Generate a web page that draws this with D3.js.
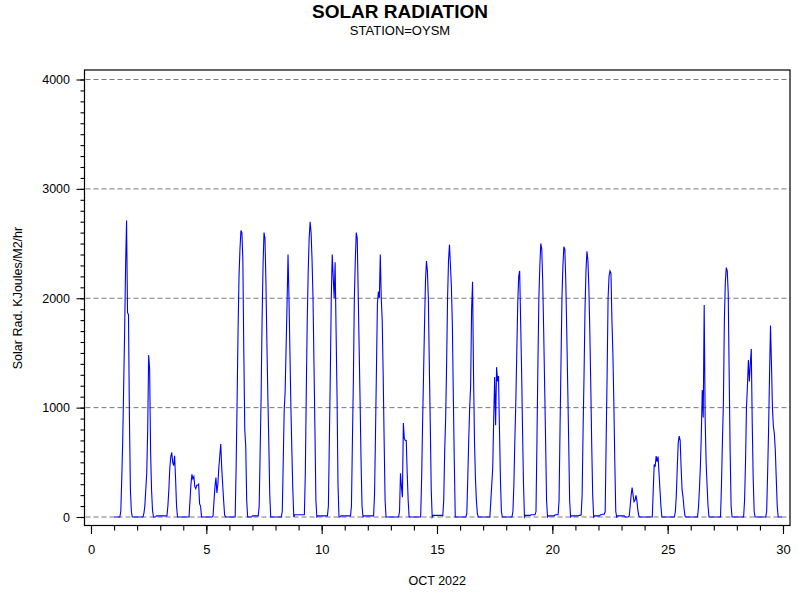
<!DOCTYPE html>
<html>
<head>
<meta charset="utf-8">
<script src="https://cdn.jsdelivr.net/npm/d3@7"></script>
<style>
  body { margin: 0; background: #fff; }
  svg { display: block; font-family: "Liberation Sans", Arial, sans-serif; }
</style>
</head>
<body>
<svg width="800" height="600"></svg>
<script>
// hourly solar radiation (KJoules/M2/hr), one row per day of Oct 2022, hours 0..23
const days = d3.range(1, 30); // 1 .. 29
const hourly = [
  [0,0,0,0,0,0,0,50,350,700,1200,1700,2300,2710,1870,1850,900,250,50,0,0,0,0,0],          // 1
  [0,0,0,0,0,0,0,30,100,250,400,800,1480,1350,600,250,60,0,0,0,10,10,10,10],             // 2
  [10,10,10,10,10,10,10,10,100,250,450,550,590,500,470,560,350,100,0,0,0,0,0,0],          // 3
  [0,0,0,0,0,0,0,150,300,390,350,370,280,260,290,290,300,120,100,0,0,0,0,0],              // 4
  [0,0,0,0,0,0,0,10,150,280,360,220,300,450,560,668,450,300,150,20,0,0,0,0],              // 5
  [0,0,0,0,0,0,0,450,1050,1700,2200,2450,2620,2600,2350,1500,800,650,150,0,0,0,0,0],      // 6
  [10,10,10,10,10,10,10,100,600,1100,1800,2300,2600,2550,2150,1600,1100,680,200,0,0,0,0,0], // 7
  [0,0,0,0,0,0,0,50,500,970,1150,1550,1950,2400,2000,1500,1000,600,250,0,20,20,20,20],    // 8
  [20,20,20,20,20,20,20,400,1150,1800,2250,2550,2700,2600,2350,2000,1400,800,150,0,10,10,10,10], // 9
  [10,10,10,10,10,10,10,100,700,1300,2000,2400,2200,2000,2330,1700,1100,300,0,0,10,10,10,10],   // 10
  [10,10,10,10,10,10,10,100,700,1250,2000,2350,2600,2550,2050,1550,1050,500,100,0,10,10,10,10], // 11
  [10,10,10,10,10,10,10,200,750,1350,1950,2060,2000,2400,2000,1800,1300,700,150,0,0,0,0,0],     // 12
  [0,0,0,0,0,0,0,0,0,50,400,280,180,860,720,700,700,400,150,0,0,0,0,0],                 // 13
  [0,0,0,0,0,0,0,0,350,850,1300,1750,2150,2340,2250,2000,1400,850,250,0,15,15,15,15],   // 14
  [15,15,15,15,15,15,10,150,600,900,1400,2000,2350,2490,2300,2100,1750,1100,500,0,0,0,0,0], // 15
  [0,0,0,0,0,0,0,30,350,700,1000,1200,1900,2150,1300,700,350,150,30,0,0,0,0,0],          // 16
  [0,0,0,0,0,0,0,0,150,300,450,900,1280,840,1370,1240,1290,800,350,50,0,0,0,0],          // 17
  [0,0,0,0,0,0,0,50,300,700,1050,1500,1950,2200,2250,1800,1350,800,300,0,15,15,15,15],   // 18
  [15,15,20,20,20,20,20,50,700,1400,2000,2300,2500,2450,2150,1700,1200,700,150,0,10,10,10,10], // 19
  [10,10,10,20,20,20,20,150,800,1400,2000,2300,2470,2450,2150,1700,1200,700,150,0,10,10,10,10], // 20
  [10,10,10,10,15,15,20,200,800,1300,1900,2250,2430,2350,2100,1700,1200,650,200,0,10,10,10,10], // 21
  [10,10,20,20,25,25,25,50,700,1300,2000,2200,2250,2230,1800,1500,1050,500,50,0,10,10,10,10],   // 22
  [10,10,10,10,0,0,0,0,10,100,200,270,200,140,150,198,150,60,10,0,0,0,0,0],              // 23
  [0,0,0,0,0,0,0,0,0,250,480,460,558,506,552,400,247,100,0,0,0,0,0,0],                   // 24
  [0,0,0,0,0,0,0,0,50,200,450,680,740,700,450,250,180,80,10,0,0,0,0,0],                  // 25
  [0,0,0,0,0,0,0,0,80,250,450,750,1160,910,1939,900,500,290,100,0,0,0,0,0],              // 26
  [0,0,0,0,0,0,0,0,300,700,1050,1800,2150,2280,2250,2050,1300,600,100,0,0,0,0,0],        // 27
  [0,0,0,0,0,0,0,0,150,500,1000,1200,1436,1238,1400,1537,850,350,50,0,0,0,0,0],          // 28
  [0,0,0,0,0,0,0,50,400,800,1300,1750,1400,1000,830,760,613,350,100,0,0,0,0,0]           // 29
];
const xTicks = [0, 5, 10, 15, 20, 25, 30];
const yTicks = [0, 1000, 2000, 3000, 4000];
const title = "SOLAR RADIATION";
const subtitle = "STATION=OYSM";
const xTitle = "OCT 2022";
const yTitle = "Solar Rad. KJoules/M2/hr";

const svg = d3.select("svg");
const frame = { left: 84.5, right: 790, top: 70, bottom: 525.5 };

const x = d3.scaleLinear().domain([0, 30]).range([91, 783]);
const y = d3.scaleLinear().domain([0, 4000]).range([517, 79.5]);

// flatten into (day + hour/24, value) points
const points = [];
days.forEach((d, i) => {
  hourly[i].forEach((v, h) => points.push({ t: d + h / 24, v: v }));
});

// titles
svg.append("text").attr("x", 400).attr("y", 17.5).attr("text-anchor", "middle")
  .style("font-size", "19px").style("font-weight", "bold").text(title);
svg.append("text").attr("x", 400).attr("y", 35).attr("text-anchor", "middle")
  .style("font-size", "13px").text(subtitle);

// dashed reference lines
svg.append("g").selectAll("line").data(yTicks).join("line")
  .attr("x1", frame.left + 1).attr("x2", frame.right)
  .attr("y1", d => y(d)).attr("y2", d => y(d))
  .attr("stroke", "#7a7a7a").attr("stroke-dasharray", "5,3");

// the series
const line = d3.line().x(d => x(d.t)).y(d => y(d.v));
svg.append("path").datum(points)
  .attr("d", line)
  .attr("fill", "none")
  .attr("stroke", "#0000ff")
  .attr("stroke-width", 1.1);

// frame
svg.append("rect")
  .attr("x", frame.left).attr("y", frame.top)
  .attr("width", frame.right - frame.left).attr("height", frame.bottom - frame.top)
  .attr("fill", "none").attr("stroke", "#000").attr("stroke-width", 1.2);

// y axis: minor then major
const yMinor = svg.append("g").attr("transform", `translate(${frame.left},0)`)
  .call(d3.axisLeft(y).tickValues(d3.range(0, 4001, 100)).tickSize(4).tickFormat(""));
const yMajor = svg.append("g").attr("transform", `translate(${frame.left},0)`)
  .call(d3.axisLeft(y).tickValues(yTicks).tickSize(8).tickPadding(6.5).tickFormat(d3.format("d")));

// x axis: minor then major
const xMinor = svg.append("g").attr("transform", `translate(0,${frame.bottom})`)
  .call(d3.axisBottom(x).tickValues(d3.range(0, 31, 1)).tickSize(5).tickFormat(""));
const xMajor = svg.append("g").attr("transform", `translate(0,${frame.bottom})`)
  .call(d3.axisBottom(x).tickValues(xTicks).tickSize(8.5).tickPadding(10.5).tickFormat(d3.format("d")));

[yMinor, yMajor, xMinor, xMajor].forEach(g => {
  g.select(".domain").remove();
  g.selectAll("line").attr("stroke", "#000").attr("stroke-width", 1.1);
  g.selectAll("text").attr("fill", "#000")
    .style("font-family", "'Liberation Sans', Arial, sans-serif");
});
yMajor.selectAll("text").style("font-size", "12.5px");
xMajor.selectAll("text").style("font-size", "13px");

// axis titles
svg.append("text").attr("x", (frame.left + frame.right) / 2).attr("y", 585)
  .attr("text-anchor", "middle").style("font-size", "12.5px").text(xTitle);
svg.append("text")
  .attr("transform", "translate(22,298) rotate(-90)")
  .attr("text-anchor", "middle").style("font-size", "12.5px").text(yTitle);
</script>
</body>
</html>
